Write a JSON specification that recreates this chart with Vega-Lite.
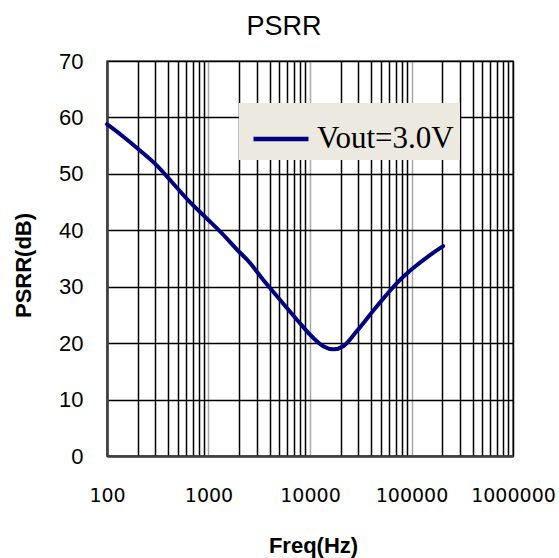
{
  "$schema": "https://vega.github.io/schema/vega-lite/v6.json",
  "autosize": {"type": "none"},
  "padding": {"left": 107, "top": 61, "right": 46, "bottom": 102},
  "width": 406,
  "height": 395,
  "background": "white",
  "title": {
    "text": "PSRR",
    "font": "Liberation Sans",
    "fontSize": 27,
    "fontWeight": "normal",
    "color": "black",
    "anchor": "middle",
    "dx": -26,
    "dy": 30,
    "offset": 12,
    "baseline": "bottom"
  },
  "config": {
    "view": {"stroke": "#888888", "strokeWidth": 2},
    "axis": {"gridOpacity": 1}
  },
  "data": {
    "values": [
      {"f": 100, "v": 58.8, "s": "Vout=3.0V"},
      {"f": 140, "v": 56.8, "s": "Vout=3.0V"},
      {"f": 203, "v": 54.4, "s": "Vout=3.0V"},
      {"f": 309, "v": 51.5, "s": "Vout=3.0V"},
      {"f": 433, "v": 48.6, "s": "Vout=3.0V"},
      {"f": 632, "v": 45.3, "s": "Vout=3.0V"},
      {"f": 922, "v": 42.4, "s": "Vout=3.0V"},
      {"f": 1350, "v": 39.5, "s": "Vout=3.0V"},
      {"f": 2000, "v": 36.2, "s": "Vout=3.0V"},
      {"f": 2400, "v": 34.8, "s": "Vout=3.0V"},
      {"f": 3470, "v": 31.2, "s": "Vout=3.0V"},
      {"f": 5060, "v": 27.7, "s": "Vout=3.0V"},
      {"f": 7400, "v": 24.2, "s": "Vout=3.0V"},
      {"f": 10800, "v": 20.9, "s": "Vout=3.0V"},
      {"f": 13500, "v": 19.45, "s": "Vout=3.0V"},
      {"f": 17000, "v": 18.9, "s": "Vout=3.0V"},
      {"f": 21300, "v": 19.45, "s": "Vout=3.0V"},
      {"f": 28800, "v": 22.1, "s": "Vout=3.0V"},
      {"f": 45400, "v": 26.5, "s": "Vout=3.0V"},
      {"f": 77100, "v": 31.2, "s": "Vout=3.0V"},
      {"f": 104000, "v": 33.3, "s": "Vout=3.0V"},
      {"f": 152000, "v": 35.6, "s": "Vout=3.0V"},
      {"f": 205000, "v": 37.2, "s": "Vout=3.0V"}
    ]
  },
  "mark": {"type": "line", "interpolate": "monotone", "strokeWidth": 4, "strokeCap": "round"},
  "encoding": {
    "x": {
      "field": "f",
      "type": "quantitative",
      "scale": {"type": "log", "domain": [100, 1000000], "nice": false},
      "axis": {
        "title": "Freq(Hz)",
        "titleFont": "Liberation Sans",
        "titleFontSize": 22,
        "titleFontWeight": "bold",
        "titleColor": "black",
        "titleX": 206,
        "titleY": 96,
        "titleBaseline": "alphabetic",
        "titleAlign": "center",
        "values": [100,200,300,400,500,600,700,800,900,1000,2000,3000,4000,5000,6000,7000,8000,9000,10000,20000,30000,40000,50000,60000,70000,80000,90000,100000,200000,300000,400000,500000,600000,700000,800000,900000,1000000],
        "labelExpr": "indexof([100,1000,10000,100000,1000000], datum.value) >= 0 ? format(datum.value, 'd') : ''",
        "labelOverlap": false,
        "labelFlush": false,
        "labelBound": false,
        "labelFont": "DejaVu Sans",
        "labelFontSize": 19,
        "labelColor": "black",
        "labelPadding": 30,
        "ticks": false,
        "grid": true,
        "gridColor": {"condition": {"test": "indexof([1000,10000,100000], datum.value) >= 0", "value": "#a8a8a8"}, "value": "black"},
        "gridWidth": 1.5,
        "domainColor": "#404040",
        "domainWidth": 2.5
      }
    },
    "y": {
      "field": "v",
      "type": "quantitative",
      "scale": {"domain": [0, 70], "nice": false},
      "axis": {
        "title": "PSRR(dB)",
        "titleFont": "Liberation Sans",
        "titleFontSize": 22,
        "titleFontWeight": "bold",
        "titleColor": "black",
        "titleAngle": -90,
        "titleX": -84,
        "titleY": 204,
        "titleAlign": "center",
        "titleBaseline": "middle",
        "values": [0,10,20,30,40,50,60,70],
        "labelFont": "Liberation Sans",
        "labelFontSize": 22,
        "labelColor": "black",
        "labelPadding": 24,
        "ticks": false,
        "grid": true,
        "gridColor": "black",
        "gridWidth": 1.5,
        "domainColor": "#404040",
        "domainWidth": 2.5
      }
    },
    "color": {
      "field": "s",
      "type": "nominal",
      "scale": {"range": ["#000080"]},
      "legend": {
        "title": null,
        "orient": "none",
        "legendX": 132,
        "legendY": 42,
        "fillColor": "#ECEAE0",
        "padding": 6,
        "symbolOffset": 6,
        "symbolType": "stroke",
        "symbolSize": 3025,
        "symbolStrokeWidth": 4.5,
        "labelFont": "Liberation Serif",
        "labelFontSize": 31,
        "labelColor": "black",
        "labelOffset": 6,
        "labelLimit": 400
      }
    }
  }
}
